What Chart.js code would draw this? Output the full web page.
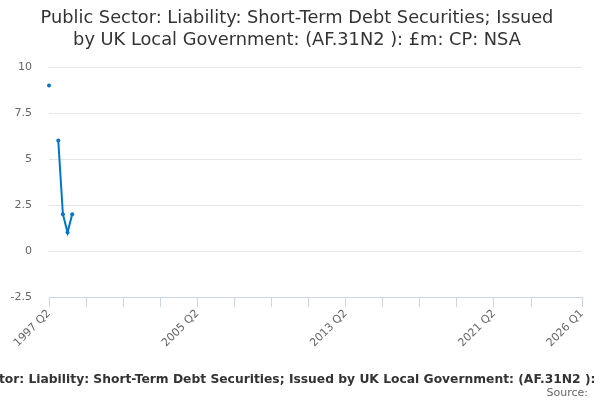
<!DOCTYPE html>
<html><head><meta charset="utf-8">
<script src="https://cdn.jsdelivr.net/npm/chart.js@4"></script>
<style>html,body{margin:0;padding:0;background:#fff}#wrap{width:600px;height:400px}</style>
</head><body><div id="wrap"><canvas id="c" width="600" height="400"></canvas></div>
<script>
const titleLines = ["Public Sector: Liability: Short-Term Debt Securities; Issued", "by UK Local Government: (AF.31N2 ): £m: CP: NSA"];
const footerText = "Public Sector: Liability: Short-Term Debt Securities; Issued by UK Local Government: (AF.31N2 ): £m: CP: NSA";
const sourceText = "Source:";
// quarters 1997 Q2 .. 2026 Q1
const categories = [];
for (let y = 1997; y <= 2026; y++) for (let q = 1; q <= 4; q++) {
  if (y === 1997 && q < 2) continue;
  if (y === 2026 && q > 1) continue;
  categories.push(y + " Q" + q);
}
const seriesValues = [9, null, 6, 2, 1, 2];
const yTicks = [-2.5, 0, 2.5, 5, 7.5, 10];
const xLabelled = ["1997 Q2", "2005 Q2", "2013 Q2", "2021 Q2", "2026 Q1"];

const data = categories.map((c, i) => i < seriesValues.length ? seriesValues[i] : null);
const FONT = "'DejaVu Sans', sans-serif";

const textPlugin = {
  id: 'texts',
  afterDraw(chart) {
    const ctx = chart.ctx;
    ctx.save();
    ctx.fillStyle = '#333';
    ctx.textAlign = 'center';
    ctx.textBaseline = 'middle';
    ctx.font = "17.8px " + FONT;
    ctx.fillText(titleLines[0], 297, 18);
    ctx.fillText(titleLines[1], 297, 40);
    ctx.font = "bold 12.3px " + FONT;
    ctx.fillText(footerText, 307, 380);
    ctx.fillStyle = '#666';
    ctx.font = "11px " + FONT;
    ctx.textAlign = 'right';
    ctx.fillText(sourceText, 588, 393);
    ctx.restore();
  }
};

new Chart(document.getElementById('c'), {
  type: 'line',
  data: {
    labels: categories,
    datasets: [{
      data: data,
      borderColor: '#0077c8',
      backgroundColor: '#0077c8',
      borderWidth: 2,
      pointRadius: 2,
      pointBorderWidth: 0,
      pointHoverRadius: 2,
      spanGaps: false,
      tension: 0
    }]
  },
  options: {
    responsive: false,
    animation: false,
    layout: { padding: { left: 0, right: 18, top: 67, bottom: 0 } },
    plugins: {
      legend: { display: false },
      tooltip: { enabled: false },
      title: { display: false }
    },
    scales: {
      x: {
        type: 'category',
        offset: false,
        afterBuildTicks(scale) {
          const last = categories.length - 1;
          scale.ticks = scale.ticks.filter(t => (t.value % 8 === 0 && last - t.value >= 8) || t.value === last);
        },
        afterFit(scale) { scale.height = 103; },
        grid: { display: true, drawOnChartArea: false, drawTicks: true, tickLength: 10, color: '#ccd6eb' },
        border: { display: true, color: '#ccd6eb' },
        ticks: {
          autoSkip: false,
          minRotation: 45,
          maxRotation: 45,
          padding: 0,
          color: '#666',
          font: { family: FONT, size: 11 },
          callback(value) {
            const lab = categories[value];
            return xLabelled.includes(lab) ? lab : '';
          }
        }
      },
      y: {
        min: -2.5,
        max: 10,
        afterBuildTicks(scale) { scale.ticks = yTicks.map(v => ({ value: v })); },
        afterFit(scale) { scale.width = 49; },
        grid: { color: '#e6e6e6', drawTicks: false },
        border: { display: false },
        ticks: {
          padding: 17,
          color: '#666',
          font: { family: FONT, size: 11 },
          callback(v) { return String(v); }
        }
      }
    }
  },
  plugins: [textPlugin]
});
</script>
</body></html>
